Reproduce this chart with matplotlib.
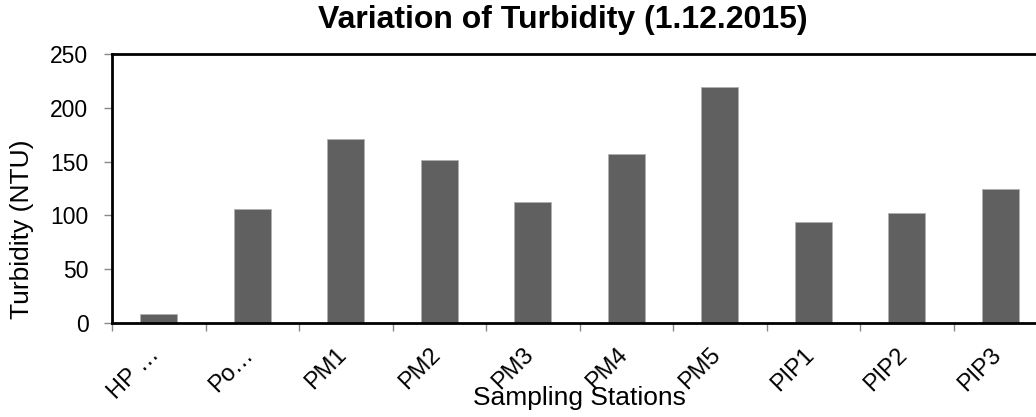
import numpy as np
import matplotlib.pyplot as plt

plt.rcParams['font.family'] = ['Liberation Sans', 'DejaVu Sans']

# Turbidity data, 1.12.2015
stations = ["HP \u2026", "Po\u2026", "PM1", "PM2", "PM3", "PM4", "PM5", "PIP1", "PIP2", "PIP3"]
turbidity = [8, 106, 171, 151.5, 112, 157, 219, 94, 102, 125]

W, H = 1036, 417
fig = plt.figure(figsize=(W / 100, H / 100), dpi=100)
ax = fig.add_axes([112 / W, 94 / H, 935 / W, 269 / H])

x = np.arange(len(stations))
ax.bar(x, turbidity, width=0.4, color='#606060', edgecolor='#b0b0b0', linewidth=0.6)

ax.set_xlim(-0.5, len(stations) - 0.5)
ax.set_ylim(0, 250)
ax.set_yticks(np.arange(0, 251, 50))

# ticks on category boundaries, labels under bar centres
ax.set_xticks(np.arange(-0.5, len(stations), 1.0))
ax.set_xticklabels([])
ax.set_xticks(x - 0.11, minor=True)
ax.set_xticklabels(stations, minor=True, rotation=45, ha='right',
                   rotation_mode='anchor', fontsize=17)
ax.tick_params(axis='x', which='minor', length=0, pad=15)
ax.tick_params(axis='x', which='major', length=6, width=1, color='#888888')
ax.tick_params(axis='y', length=6, width=1, color='#888888', labelsize=16.5, pad=11)

for side in ['top', 'left', 'bottom', 'right']:
    ax.spines[side].set_color('black')
    ax.spines[side].set_linewidth(2)

fig.text(563 / W, 1 - 28 / H, "Variation of Turbidity (1.12.2015)",
         fontsize=23, fontweight='bold', ha='center', va='baseline')
fig.text(22 / W, 188 / H, "Turbidity (NTU)", fontsize=19, rotation=90,
         ha='center', va='center')
fig.text(579 / W, 1 - 405 / H, "Sampling Stations", fontsize=19,
         ha='center', va='baseline')

fig.savefig("out.png", dpi=100)
